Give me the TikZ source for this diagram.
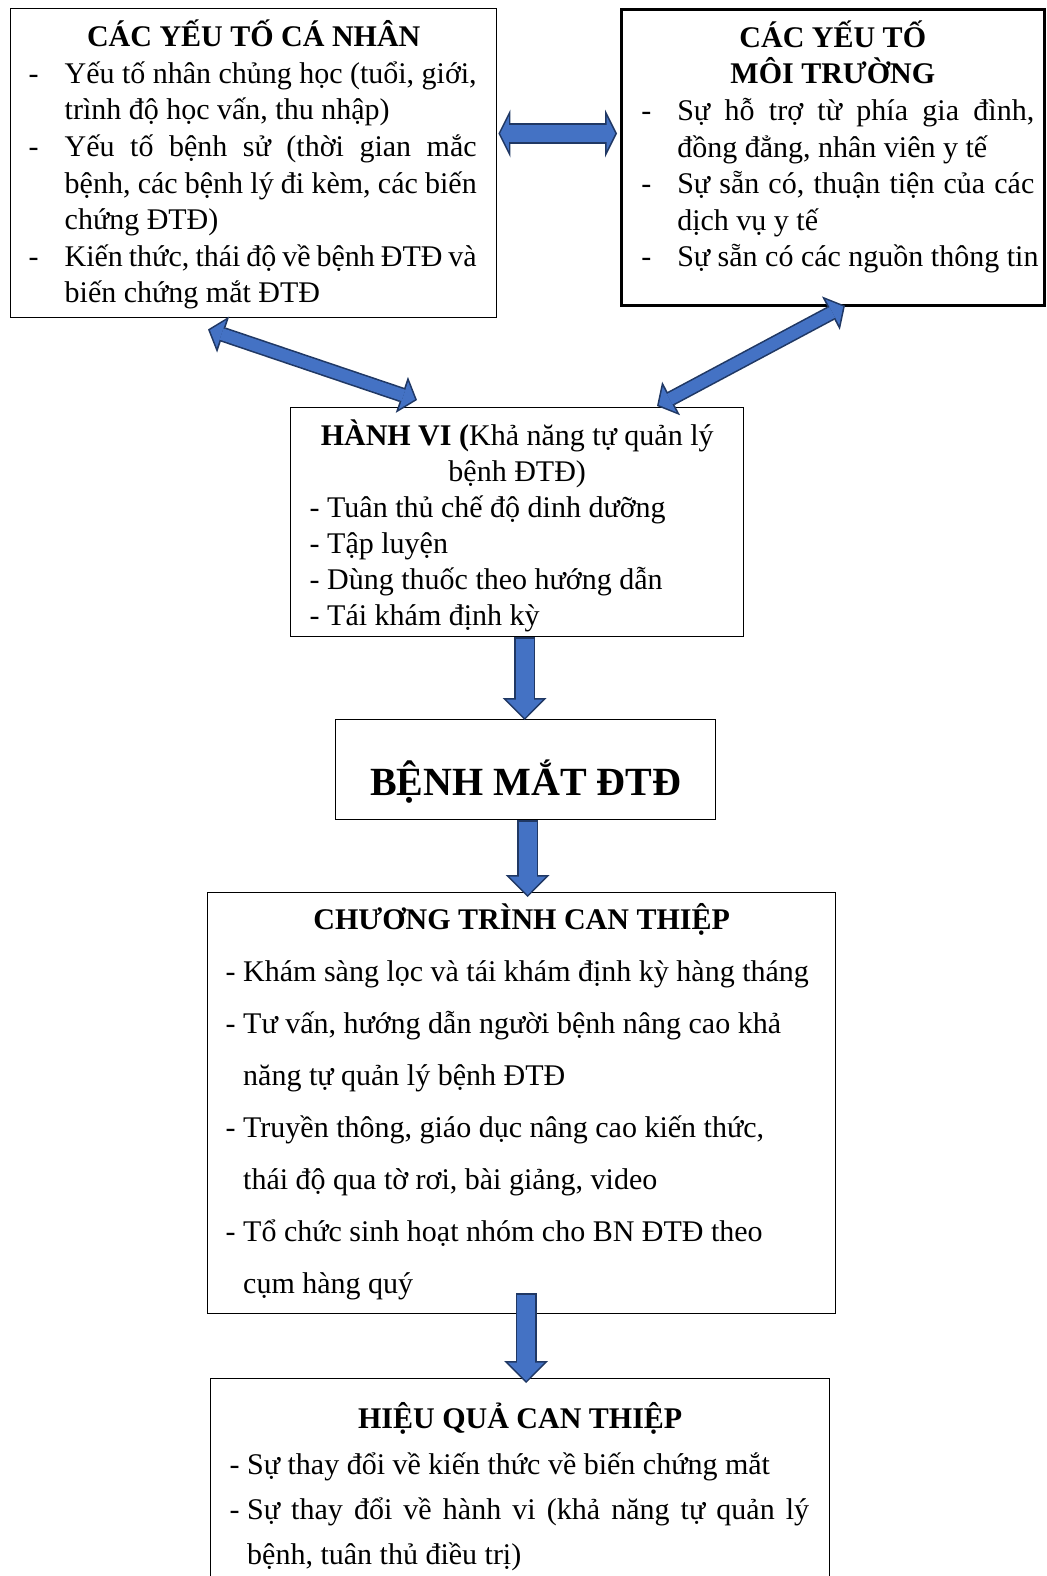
\documentclass[tikz,border=0pt]{standalone}
\usepackage{fontspec}
\setmainfont{Liberation Serif}
\usepackage{xcolor}
\usepackage{tikz}
\usetikzlibrary{arrows.meta,calc}

\definecolor{arrowfill}{HTML}{4472C4}
\definecolor{arrowedge}{HTML}{203864}

\newcommand{\gach}{\makebox[18pt][l]{-}}

\tikzset{
  khung/.style={draw, line width=0.7pt, anchor=north west, inner xsep=9pt, inner ysep=0pt, align=flush left, font=\fontsize{15}{18.3}\selectfont},
  doc vien/.style={draw=arrowedge, line width=10.5pt, -{Triangle[width=22pt,length=11pt,line width=0pt]}},
  doc ruot/.style={draw=arrowfill, line width=8.9pt, -{Triangle[width=18.1pt,length=9.1pt,line width=0pt]}, shorten >=1.1pt, shorten <=0.8pt},
  ngang vien/.style={draw=arrowedge, line width=10.5pt, {Triangle[width=24pt,length=6pt,line width=0pt]}-{Triangle[width=24pt,length=6pt,line width=0pt]}},
  ngang ruot/.style={draw=arrowfill, line width=8.9pt, {Triangle[width=17.2pt,length=4.3pt,line width=0pt]}-{Triangle[width=17.2pt,length=4.3pt,line width=0pt]}, shorten >=0.9pt, shorten <=0.9pt},
  cheo vien/.style={draw=arrowedge, line width=7.5pt, {Triangle[width=19pt,length=8pt,line width=0pt]}-{Triangle[width=19pt,length=8pt,line width=0pt]}},
  cheo ruot/.style={draw=arrowfill, line width=5.9pt, {Triangle[width=14.6pt,length=6.1pt,line width=0pt]}-{Triangle[width=14.6pt,length=6.1pt,line width=0pt]}, shorten >=1.05pt, shorten <=1.05pt}
}

\begin{document}
\begin{tikzpicture}[x=0.5pt, y=-0.5pt]

\useasboundingbox (0,0) rectangle (1046,1576);
\clip (0,0) rectangle (1046,1576);

\node[khung, text width=225pt, text height=19pt, text depth=135.5pt] (canhan) at (10,8) {%
\makebox[\linewidth]{\bfseries CÁC YẾU TỐ CÁ NHÂN}\\
\gach\makebox[206pt][s]{Yếu tố nhân chủng học (tuổi, giới,}\\
\hspace*{18pt}trình độ học vấn, thu nhập)\\
\gach\makebox[206pt][s]{Yếu tố bệnh sử (thời gian mắc}\\
\hspace*{18pt}\makebox[206pt][s]{bệnh, các bệnh lý đi kèm, các biến}\\
\hspace*{18pt}chứng ĐTĐ)\\
\gach\makebox[206pt][s]{Kiến thức, thái độ về bệnh ĐTĐ và}\\
\hspace*{18pt}biến chứng mắt ĐTĐ};

\node[khung, line width=1.3pt, inner xsep=10pt, text width=191.5pt, text height=19pt, text depth=129pt] (moitruong) at (620,8) {%
\makebox[\linewidth]{\bfseries CÁC YẾU TỐ}\\
\makebox[\linewidth]{\bfseries MÔI TRƯỜNG}\\
\gach\makebox[178.5pt][s]{Sự hỗ trợ từ phía gia đình,}\\
\hspace*{18pt}đồng đẳng, nhân viên y tế\\
\gach\makebox[178.5pt][s]{Sự sẵn có, thuận tiện của các}\\
\hspace*{18pt}dịch vụ y tế\\
\gach\mbox{Sự sẵn có các nguồn thông tin}};

\node[khung, inner xsep=9.5pt, text width=207.5pt, text height=19pt, text depth=95.5pt, font=\fontsize{15}{18}\selectfont] (hanhvi) at (290,407) {%
\makebox[\linewidth]{\textbf{HÀNH VI (}Khả năng tự quản lý}\\
\makebox[\linewidth]{bệnh ĐTĐ)}\\
- Tuân thủ chế độ dinh dưỡng\\
- Tập luyện\\
- Dùng thuốc theo hướng dẫn\\
- Tái khám định kỳ};

\node[khung, inner sep=0pt, minimum width=190pt, text height=38pt, text depth=12pt, font=\fontsize{20}{24}\selectfont\bfseries] (benh) at (335,719) {BỆNH MẮT ĐTĐ};

\node[khung, text width=296pt, text height=18.5pt, text depth=192pt, font=\fontsize{15}{26}\selectfont] (chuongtrinh) at (207,892) {%
\makebox[\linewidth]{\bfseries CHƯƠNG TRÌNH CAN THIỆP}\\
- Khám sàng lọc và tái khám định kỳ hàng tháng\\
- Tư vấn, hướng dẫn người bệnh nâng cao khả\\
\phantom{- }năng tự quản lý bệnh ĐTĐ\\
- Truyền thông, giáo dục nâng cao kiến thức,\\
\phantom{- }thái độ qua tờ rơi, bài giảng, video\\
- Tổ chức sinh hoạt nhóm cho BN ĐTĐ theo\\
\phantom{- }cụm hàng quý};

\node[khung, inner xsep=9.5pt, text width=290.5pt, text height=25pt, text depth=86pt, font=\fontsize{15}{22.7}\selectfont] (hieuqua) at (210,1378) {%
\makebox[\linewidth]{\bfseries HIỆU QUẢ CAN THIỆP}\\
- Sự thay đổi về kiến thức về biến chứng mắt\\
- \makebox[281pt][s]{Sự thay đổi về hành vi (khả năng tự quản lý}\\
\phantom{- }bệnh, tuân thủ điều trị)};

\draw[ngang vien] ($(canhan.north east)+(1,125.5)$) -- ($(moitruong.north west)+(-3,125.5)$);
\draw[ngang ruot] ($(canhan.north east)+(1,125.5)$) -- ($(moitruong.north west)+(-3,125.5)$);

\draw[cheo vien] ($(canhan.south west)+(198,11)$) -- ($(hanhvi.north west)+(127,-7)$);
\draw[cheo ruot] ($(canhan.south west)+(198,11)$) -- ($(hanhvi.north west)+(127,-7)$);

\draw[cheo vien] ($(moitruong.south west)+(225,-1)$) -- ($(hanhvi.north west)+(367,-1)$);
\draw[cheo ruot] ($(moitruong.south west)+(225,-1)$) -- ($(hanhvi.north west)+(367,-1)$);

\draw[doc vien] ($(hanhvi.south -| benh.north)+(-1,0)$) -- ($(benh.north)+(-1,1)$);
\draw[doc ruot] ($(hanhvi.south -| benh.north)+(-1,0)$) -- ($(benh.north)+(-1,1)$);

\draw[doc vien] ($(benh.south)+(2,0)$) -- ($(benh.south |- chuongtrinh.north)+(2,5)$);
\draw[doc ruot] ($(benh.south)+(2,0)$) -- ($(benh.south |- chuongtrinh.north)+(2,5)$);

\draw[doc vien] ($(chuongtrinh.south)+(4.5,-21)$) -- ($(chuongtrinh.south |- hieuqua.north)+(4.5,5)$);
\draw[doc ruot] ($(chuongtrinh.south)+(4.5,-21)$) -- ($(chuongtrinh.south |- hieuqua.north)+(4.5,5)$);

\end{tikzpicture}
\end{document}
